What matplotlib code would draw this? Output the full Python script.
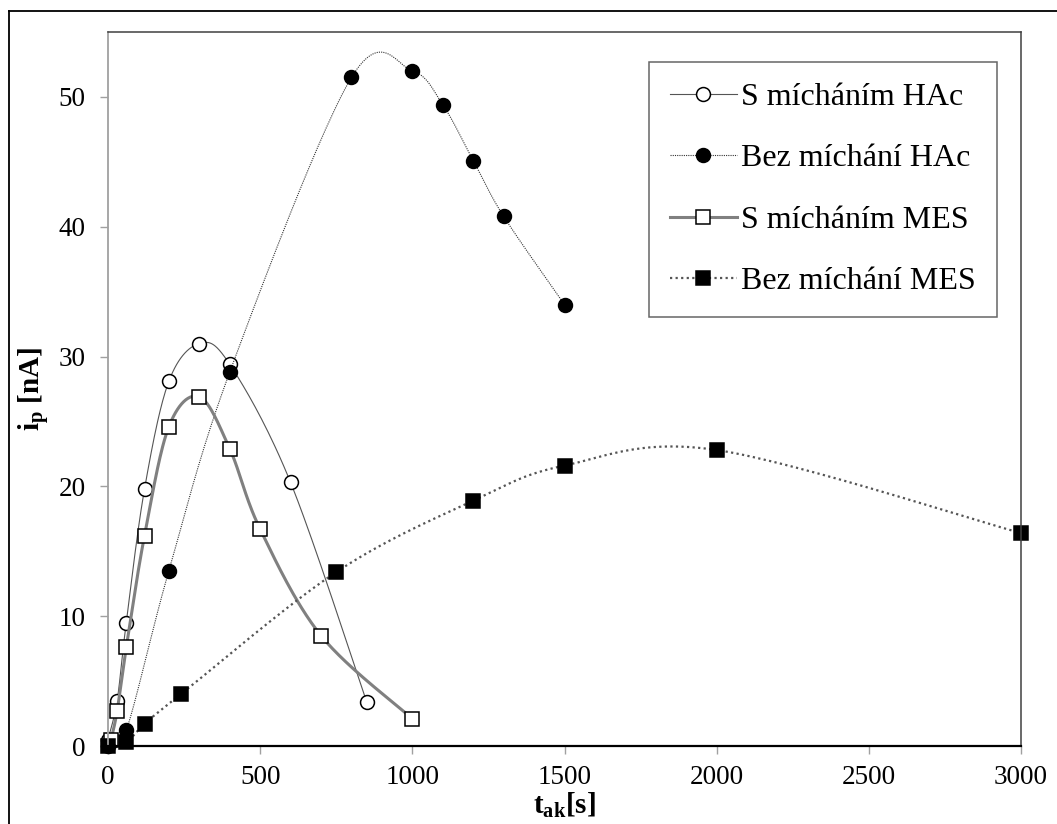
import numpy as np
import matplotlib
matplotlib.use('Agg')
import matplotlib.pyplot as plt
from matplotlib.lines import Line2D

plt.rcParams['font.family'] = ['Liberation Serif', 'DejaVu Serif']
plt.rcParams['mathtext.fontset'] = 'custom'
plt.rcParams['mathtext.rm'] = 'Liberation Serif'
plt.rcParams['mathtext.it'] = 'Liberation Serif:italic'
plt.rcParams['mathtext.bf'] = 'Liberation Serif:bold'

# data
t_hac_s = [0, 30, 60, 120, 200, 300, 400, 600, 850]
i_hac_s = [0.5, 3.5, 9.5, 19.8, 28.1, 31.0, 29.4, 20.3, 3.4]

t_hac_b = [0, 60, 200, 400, 800, 1000, 1100, 1200, 1300, 1500]
i_hac_b = [0.0, 1.2, 13.5, 28.8, 51.5, 52.0, 49.4, 45.1, 40.8, 34.0]

t_mes_s = [10, 30, 60, 120, 200, 300, 400, 500, 700, 1000]
i_mes_s = [0.5, 2.7, 7.6, 16.2, 24.6, 26.9, 22.9, 16.7, 8.5, 2.1]

t_mes_b = [0, 60, 120, 240, 750, 1200, 1500, 2000, 3000]
i_mes_b = [0.0, 0.3, 1.7, 4.0, 13.4, 18.9, 21.6, 22.8, 16.4]

labels = ['S mícháním HAc', 'Bez míchání HAc', 'S mícháním MES', 'Bez míchání MES']

XMAX, YMAX = 3000, 55
SX, SY = 913 / XMAX, 714 / YMAX   # approx pixel scale, smoothing done in screen space
N = 30


def smooth(xs, ys):
    # Excel-like smoothed line (Catmull-Rom bezier), returns curve + marker indices
    p = np.column_stack([np.array(xs) * SX, np.array(ys) * SY])
    out = [p[0]]
    idx = [0]
    for i in range(len(p) - 1):
        p0 = p[i - 1] if i > 0 else p[i]
        p1, p2 = p[i], p[i + 1]
        p3 = p[i + 2] if i + 2 < len(p) else p[i + 1]
        c1 = p1 + (p2 - p0) / 6
        c2 = p2 - (p3 - p1) / 6
        t = np.linspace(0, 1, N + 1)[1:, None]
        seg = ((1 - t) ** 3 * p1 + 3 * (1 - t) ** 2 * t * c1
               + 3 * (1 - t) * t ** 2 * c2 + t ** 3 * p2)
        out.extend(seg)
        idx.append(len(out) - 1)
    out = np.array(out)
    return out[:, 0] / SX, out[:, 1] / SY, idx


fig = plt.figure(figsize=(10.57, 8.24), dpi=100)
ax = fig.add_axes([108 / 1057, 78 / 824, 913 / 1057, 714 / 824])

series = [
    (t_hac_s, i_hac_s, dict(color='#555555', lw=0.8, ls='-', marker='o', mfc='white', ms=10)),
    (t_hac_b, i_hac_b, dict(color='#333333', lw=0.8, ls=(0, (1, 1)), marker='o', mfc='black', ms=10)),
    (t_mes_s, i_mes_s, dict(color='#808080', lw=2.2, ls='-', marker='s', mfc='white', ms=10)),
    (t_mes_b, i_mes_b, dict(color='#555555', lw=1.6, ls=(0, (1, 1.5)), marker='s', mfc='black', ms=10)),
]

for (xs, ys, st), lab in zip(series, labels):
    cx, cy, idx = smooth(xs, ys)
    ax.plot(cx, cy, markevery=idx, mec='black', mew=1.1, label=lab, clip_on=False, **st)

ax.set_xlim(0, XMAX)
ax.set_ylim(0, YMAX)
ax.set_xticks([0, 500, 1000, 1500, 2000, 2500, 3000])
ax.set_yticks([0, 10, 20, 30, 40, 50])

ax.spines['left'].set_color('#a0a0a0')
ax.spines['left'].set_linewidth(1.3)
ax.spines['bottom'].set_color('black')
ax.spines['bottom'].set_linewidth(1.6)
for s in ['top', 'right']:
    ax.spines[s].set_color('#404040')
    ax.spines[s].set_linewidth(1.1)

ax.tick_params(axis='y', direction='out', length=6, width=1, color='#a0a0a0',
               labelsize=19.5, pad=10)
ax.tick_params(axis='x', direction='out', length=6, width=1, color='#a0a0a0',
               labelsize=19.5, pad=8)

ax.set_xlabel(r'$\mathbf{t_{ak}[s]}$', fontsize=21, labelpad=0)
ax.set_ylabel(r'$\mathbf{i_p\ [nA]}$', fontsize=21, labelpad=5)

leg = ax.legend(loc='upper right', bbox_to_anchor=(0.9737, 0.958), borderaxespad=0,
                fontsize=23, frameon=True, fancybox=False, edgecolor='#404040',
                labelspacing=1.0, handlelength=2.1, handletextpad=0.15,
                borderpad=0.65, numpoints=1)
leg.get_frame().set_linewidth(1.1)

# outer chart border (only left and top visible in the reference crop)
fig.add_artist(Line2D([9 / 1057, 9 / 1057], [0, 1 - 11 / 824], transform=fig.transFigure,
                      color='black', lw=1.3))
fig.add_artist(Line2D([9 / 1057, 1], [1 - 11 / 824, 1 - 11 / 824], transform=fig.transFigure,
                      color='black', lw=1.3))

fig.savefig('out.png', dpi=100)
